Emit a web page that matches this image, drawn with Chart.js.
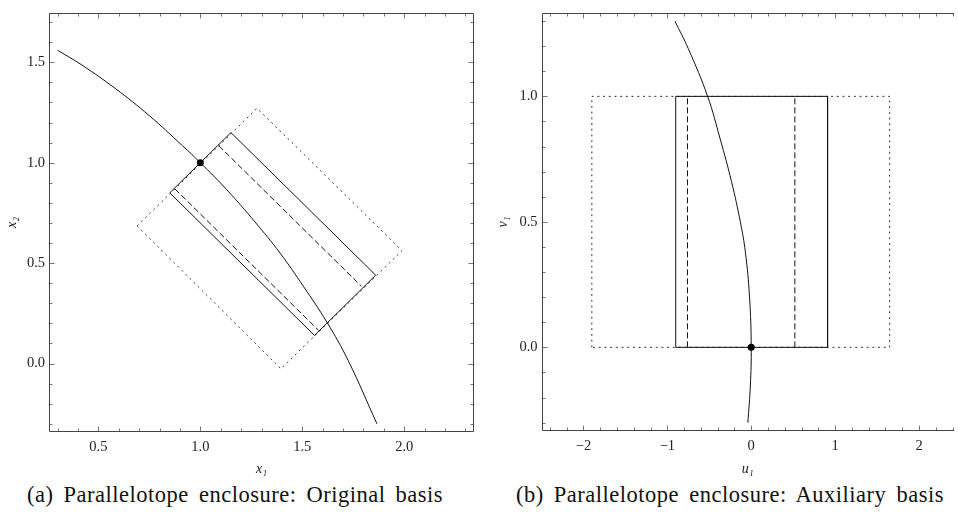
<!DOCTYPE html>
<html>
<head>
<meta charset="utf-8">
<title>Parallelotope enclosure</title>
<script src="https://cdn.jsdelivr.net/npm/chart.js@4.4.0/dist/chart.umd.min.js"></script>
<style>
  html, body { margin: 0; padding: 0; background: #fff; overflow: hidden; width: 958px; height: 515px; }
  canvas { position: absolute; top: 0; }
  #leftChart { left: 0; }
  #rightChart { left: 491px; }
  .caption {
    position: absolute;
    top: 484px;
    font-family: "Liberation Serif", "Times New Roman", "DejaVu Serif", serif;
    font-size: 22.5px;
    line-height: 1;
    letter-spacing: 0.5px;
    word-spacing: 4px;
    color: #111;
    white-space: nowrap;
  }
</style>
</head>
<body>
<canvas id="leftChart" width="480" height="480"></canvas>
<canvas id="rightChart" width="467" height="480"></canvas>
<div class="caption" style="left:27px">(a) Parallelotope enclosure: Original basis</div>
<div class="caption" style="left:516px">(b) Parallelotope enclosure: Auxiliary basis</div>

<script>
// (a) original basis, points are [x1, x2]
const curveA = [[0.30, 1.56], [0.42, 1.486], [0.585, 1.368], [0.749, 1.235], [0.912, 1.085], [1.0, 1.0],
  [1.13, 0.865], [1.268, 0.705], [1.391, 0.55], [1.505, 0.385], [1.62, 0.207], [1.725, 0.015], [1.866, -0.30]];
const solidBoxA = [[0.85, 0.85], [1.15, 1.15], [1.86, 0.44], [1.56, 0.14], [0.85, 0.85]];
const dottedBoxA = [[0.69, 0.685], [1.278, 1.271], [1.989, 0.562], [1.395, -0.026], [0.69, 0.685]];
const dashedA1 = [[0.875, 0.87], [1.58, 0.165]];
const dashedA2 = [[1.09, 1.085], [1.79, 0.385]];
const pointA = [[1.0, 1.0]];
const xTicksA = [0.5, 1.0, 1.5, 2.0];
const xLabelsA = ['0.5', '1.0', '1.5', '2.0'];
const yTicksA = [0.0, 0.5, 1.0, 1.5];
const yLabelsA = ['0.0', '0.5', '1.0', '1.5'];

// (b) auxiliary basis, points are [u1, v1]
const curveB = [[-0.91, 1.30], [-0.75, 1.19], [-0.52, 1.0], [-0.37, 0.83], [-0.235, 0.66], [-0.13, 0.50],
  [-0.07, 0.38], [-0.02, 0.20], [0, 0], [-0.01, -0.15], [-0.04, -0.30]];
const solidBoxB = [[-0.9, 0], [-0.9, 1], [0.91, 1], [0.91, 0], [-0.9, 0]];
const dottedBoxB = [[-1.9, 0], [-1.9, 1], [1.65, 1], [1.65, 0], [-1.9, 0]];
const dashedB1 = [[-0.76, 0], [-0.76, 1]];
const dashedB2 = [[0.52, 0], [0.52, 1]];
const pointB = [[0, 0]];
const xTicksB = [-2, -1, 0, 1, 2];
const xLabelsB = ['\u22122', '\u22121', '0', '1', '2'];
const yTicksB = [0.0, 0.5, 1.0];
const yLabelsB = ['0.0', '0.5', '1.0'];

const serif = '"Liberation Serif", "Times New Roman", "DejaVu Serif", serif';
const textColor = '#222';
const dashed = [6, 3];
const dotted = [2, 3.7];

// frame round the plot area with inward ticks; the right panel runs off the page, so no right side there
const framePlugin = {
  id: 'frame',
  afterDatasetsDraw(chart, args, opts) {
    const ctx = chart.ctx;
    const a = chart.chartArea;
    const L = Math.round(a.left) + 0.5, R = Math.round(a.right) - 0.5;
    const T = Math.round(a.top) + 0.5, B = Math.round(a.bottom) - 0.5;
    ctx.save();
    ctx.lineWidth = 1;
    ctx.strokeStyle = '#777';
    ctx.beginPath();
    const xs = chart.scales.x, ys = chart.scales.y;
    const each = (scale, step, major, fn) => {
      const n0 = Math.ceil(scale.min / step - 1e-9), n1 = Math.floor(scale.max / step + 1e-9);
      for (let n = n0; n <= n1; n++) {
        const v = n * step;
        const isMajor = Math.abs(v / major - Math.round(v / major)) < 1e-6;
        fn(Math.round(scale.getPixelForValue(v)) + 0.5, isMajor ? 5 : 3);
      }
    };
    each(xs, opts.minorX, opts.majorX, (p, len) => {
      ctx.moveTo(p, B); ctx.lineTo(p, B - len);
      ctx.moveTo(p, T); ctx.lineTo(p, T + len);
    });
    each(ys, opts.minorY, opts.majorY, (p, len) => {
      ctx.moveTo(L, p); ctx.lineTo(L + len, p);
      if (!opts.openRight) { ctx.moveTo(R, p); ctx.lineTo(R - len, p); }
    });
    ctx.stroke();
    ctx.strokeStyle = '#444';
    ctx.beginPath();
    if (opts.openRight) {
      ctx.moveTo(a.right, T); ctx.lineTo(L, T); ctx.lineTo(L, B); ctx.lineTo(a.right, B);
    } else {
      ctx.rect(L, T, R - L, B - T);
    }
    ctx.stroke();
    ctx.restore();
  }
};

function toXY(pts) {
  return pts.map(p => ({ x: p[0], y: p[1] }));
}

function lineSet(pts, dash, tension, color) {
  return {
    data: toXY(pts),
    showLine: true,
    borderColor: color || '#111',
    borderWidth: 1,
    borderDash: dash,
    pointRadius: 0,
    tension: tension,
    fill: false
  };
}

function pointSet(pts) {
  return {
    data: toXY(pts),
    showLine: false,
    pointRadius: 3.5,
    pointBackgroundColor: '#000',
    pointBorderWidth: 0
  };
}

function axis(min, max, ticks, labels, title, isX, size) {
  return {
    type: 'linear',
    min: min,
    max: max,
    grid: { display: false, drawTicks: false },
    border: { display: false },
    afterBuildTicks: s => { s.ticks = ticks.map(v => ({ value: v })); },
    afterFit: s => { if (isX) s.height = size; else s.width = size; },
    ticks: {
      callback: (v, i) => labels[i],
      font: { family: serif, size: 14.5 },
      color: textColor,
      padding: isX ? 6 : 4,
      maxRotation: 0,
      autoSkip: false
    },
    title: {
      display: true,
      text: title,
      color: textColor,
      font: { family: serif, size: 14, style: 'italic' },
      padding: isX ? { top: 0, bottom: 2.6 } : { top: 4, bottom: 0 }
    }
  };
}

function makeChart(id, datasets, pad, xAxis, yAxis, frame) {
  return new Chart(document.getElementById(id), {
    type: 'scatter',
    data: { datasets: datasets },
    options: {
      responsive: false,
      animation: false,
      layout: { padding: pad },
      plugins: { legend: { display: false }, tooltip: { enabled: false }, frame: frame },
      scales: { x: xAxis, y: yAxis }
    },
    plugins: [framePlugin]
  });
}

makeChart('leftChart', [
    pointSet(pointA),
    lineSet(curveA, [], 0.4),
    lineSet(solidBoxA, [], 0),
    lineSet(dashedA1, dashed, 0),
    lineSet(dashedA2, dashed, 0),
    lineSet(dottedBoxA, dotted, 0, '#333')
  ],
  { top: 6, right: 6, left: 0, bottom: 0 },
  axis(0.258, 2.342, xTicksA, xLabelsA, 'x\u2081', true, 48),
  axis(-0.341, 1.747, yTicksA, yLabelsA, 'x\u2082', false, 49),
  { minorX: 0.1, majorX: 0.5, minorY: 0.1, majorY: 0.5 });

// the reference panel is cut at the page edge: plot runs from -2.5 to about 2.42
makeChart('rightChart', [
    pointSet(pointB),
    lineSet(curveB, [], 0.4),
    lineSet(solidBoxB, [], 0),
    lineSet(dashedB1, dashed, 0),
    lineSet(dashedB2, dashed, 0),
    lineSet(dottedBoxB, dotted, 0, '#333')
  ],
  { top: 7, right: 0, left: 0, bottom: 0 },
  axis(-2.5, 2.417, xTicksB, xLabelsB, 'u\u2081', true, 49),
  axis(-1 / 3, 4 / 3, yTicksB, yLabelsB, 'v\u2081', false, 50.5),
  { minorX: 0.2, majorX: 1, minorY: 0.1, majorY: 0.5, openRight: true });
</script>
</body>
</html>
